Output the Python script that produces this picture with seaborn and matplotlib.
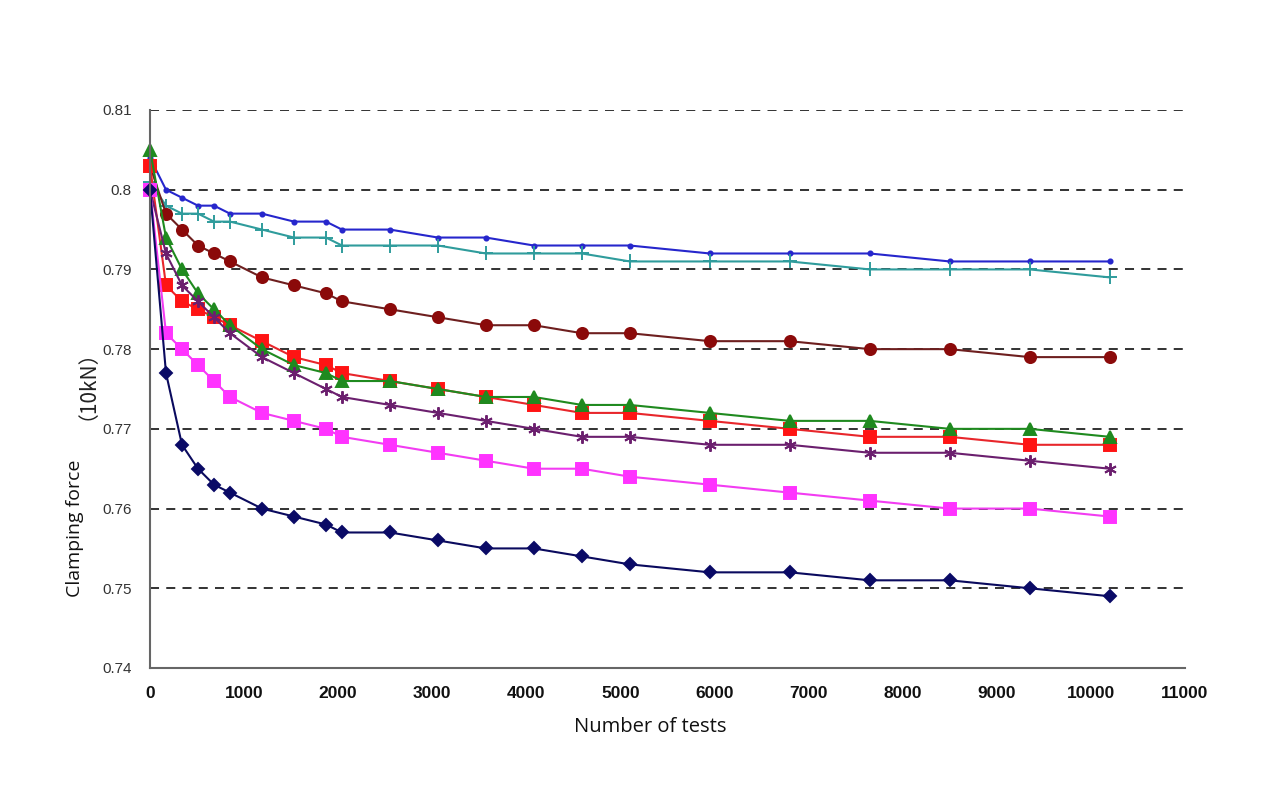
"""
Clamping force versus number of tests, one line per specimen.
"""
import seaborn as sns
import matplotlib.pyplot as plt

sns.set_style("white")
plt.rcParams['font.family'] = ['Liberation Sans', 'DejaVu Sans']

# number of tests at each measurement
tests = [0, 170, 340, 510, 680, 850, 1190, 1530, 1870, 2040, 2550, 3060,
         3570, 4080, 4590, 5100, 5950, 6800, 7650, 8500, 9350, 10200]

# clamping force (10kN) for each specimen
blue_vals = [0.804, 0.800, 0.799, 0.798, 0.798, 0.797, 0.797, 0.796, 0.796, 0.795, 0.795,
             0.794, 0.794, 0.793, 0.793, 0.793, 0.792, 0.792, 0.792, 0.791, 0.791, 0.791]
teal_vals = [0.801, 0.798, 0.797, 0.797, 0.796, 0.796, 0.795, 0.794, 0.794, 0.793, 0.793,
             0.793, 0.792, 0.792, 0.792, 0.791, 0.791, 0.791, 0.790, 0.790, 0.790, 0.789]
maroon_vals = [0.803, 0.797, 0.795, 0.793, 0.792, 0.791, 0.789, 0.788, 0.787, 0.786, 0.785,
               0.784, 0.783, 0.783, 0.782, 0.782, 0.781, 0.781, 0.780, 0.780, 0.779, 0.779]
red_vals = [0.803, 0.788, 0.786, 0.785, 0.784, 0.783, 0.781, 0.779, 0.778, 0.777, 0.776,
            0.775, 0.774, 0.773, 0.772, 0.772, 0.771, 0.770, 0.769, 0.769, 0.768, 0.768]
green_vals = [0.805, 0.794, 0.790, 0.787, 0.785, 0.783, 0.780, 0.778, 0.777, 0.776, 0.776,
              0.775, 0.774, 0.774, 0.773, 0.773, 0.772, 0.771, 0.771, 0.770, 0.770, 0.769]
purple_vals = [0.800, 0.792, 0.788, 0.786, 0.784, 0.782, 0.779, 0.777, 0.775, 0.774, 0.773,
               0.772, 0.771, 0.770, 0.769, 0.769, 0.768, 0.768, 0.767, 0.767, 0.766, 0.765]
magenta_vals = [0.800, 0.782, 0.780, 0.778, 0.776, 0.774, 0.772, 0.771, 0.770, 0.769, 0.768,
                0.767, 0.766, 0.765, 0.765, 0.764, 0.763, 0.762, 0.761, 0.760, 0.760, 0.759]
navy_vals = [0.800, 0.777, 0.768, 0.765, 0.763, 0.762, 0.760, 0.759, 0.758, 0.757, 0.757,
             0.756, 0.755, 0.755, 0.754, 0.753, 0.752, 0.752, 0.751, 0.751, 0.750, 0.749]

y_ticks = [0.74, 0.75, 0.76, 0.77, 0.78, 0.79, 0.8, 0.81]
y_tick_labels = ["0.74", "0.75", "0.76", "0.77", "0.78", "0.79", "0.8", "0.81"]
x_ticks = list(range(0, 11001, 1000))

# (values, line colour, marker, marker face, marker size)
series = [
    (blue_vals, '#2626cc', 'o', '#2626cc', 3),
    (teal_vals, '#2f9c9c', '+', '#2f9c9c', 10),
    (maroon_vals, '#6e1f1f', 'o', '#8b0a0a', 8),
    (red_vals, '#e8262b', 's', '#ff1414', 8),
    (green_vals, '#1f8a1f', '^', '#1f8a1f', 8),
    (purple_vals, '#6b1f6e', (6, 2, 0), '#6b1f6e', 9),
    (magenta_vals, '#f23cf2', 's', '#ff33ff', 8),
    (navy_vals, '#0a0a5e', 'D', '#0a0a66', 6),
]

fig = plt.figure(figsize=(12.8, 8), dpi=100)
ax = fig.add_axes([150 / 1280, 132 / 800, 1035 / 1280, 558 / 800])

for vals, line_color, marker, face, size in series:
    sns.lineplot(x=tests, y=vals, ax=ax, color=line_color, linewidth=1.5,
                 marker=marker, markersize=size, markerfacecolor=face,
                 markeredgecolor=face, markeredgewidth=1.4, clip_on=False)

ax.set_xlim(0, 11000)
ax.set_ylim(0.74, 0.81)
ax.set_xticks(x_ticks)
ax.set_xticklabels([str(t) for t in x_ticks])
ax.set_yticks(y_ticks)
ax.set_yticklabels(y_tick_labels)

ax.yaxis.grid(True, linestyle=(0, (5, 4)), color='#222222', linewidth=1.3)
ax.xaxis.grid(False)
sns.despine(ax=ax)
for side in ['left', 'bottom']:
    ax.spines[side].set_color('#666666')
    ax.spines[side].set_linewidth(1.5)

ax.tick_params(axis='y', direction='inout', length=8, width=1, color='#666666',
               labelsize=11, labelcolor='#333333', pad=9)
ax.tick_params(axis='x', direction='out', length=5, width=1, color='#666666',
               labelsize=12.5, labelcolor='#111111', pad=8)
for lbl in ax.get_xticklabels():
    lbl.set_fontweight('bold')

ax.set_xlabel("")
ax.set_ylabel("")
fig.text(650 / 1280, 1 - 727 / 800, "Number of tests", ha='center', va='center',
         fontsize=14.5, family=['Open Sans', 'DejaVu Sans'], color='#111111')
fig.text(75 / 1280, 1 - 528 / 800, "Clamping force", ha='center', va='center',
         rotation=90, fontsize=14, family=['Open Sans', 'DejaVu Sans'], color='#111111')
fig.text(77 / 1280, 1 - 374 / 800, "（10kN）", ha='center', va='center',
         rotation=90, fontsize=15, family=['Noto Sans CJK SC', 'DejaVu Sans'],
         fontweight='light', color='#222222')

fig.savefig("out.png", dpi=100)
